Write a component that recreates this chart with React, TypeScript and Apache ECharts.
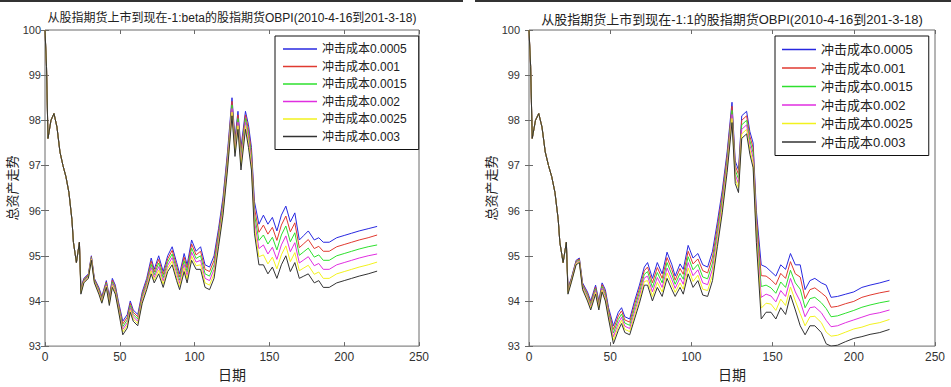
import React, { useEffect, useRef } from "react";
import * as echarts from "echarts";

// trading days (x axis)
const days = [0, 1, 2, 4, 6, 8, 10, 12, 14, 16, 18, 19, 21, 23, 24, 26, 29, 31, 33, 36, 38, 41, 43, 45, 47, 49, 52, 55, 57, 59, 62, 65, 68, 71, 73, 76, 79, 82, 85, 88, 90, 93, 95, 98, 101, 104, 107, 110, 113, 116, 119, 122, 125, 127, 129, 131, 134, 136, 138, 140, 143, 146, 149, 152, 155, 158, 161, 164, 167, 170, 173, 176, 180, 183, 186, 190, 195, 200, 205, 210, 216, 222];

// first days, where every cost level draws the same path
const sharedStart = [100, 99.2, 97.6, 98.0, 98.15, 97.85, 97.3, 97.0, 96.75, 96.4, 95.8, 95.3, 94.85, 95.3];

// left chart: -1:beta
const leftC0005 = [...sharedStart, 94.3, 94.5, 94.6, 95.0, 94.5, 94.3, 94.1, 94.45, 94.1, 94.5, 94.35, 94.0, 93.55, 93.7, 94.0, 93.8, 93.7, 94.2, 94.5, 94.95, 94.7, 95.0, 94.65, 95.0, 95.2, 94.85, 94.6, 95.05, 94.8, 95.35, 95.1, 95.2, 94.8, 94.75, 95.0, 95.6, 96.3, 97.3, 98.5, 97.6, 98.2, 97.4, 98.2, 97.9, 97.4, 96.2, 95.7, 95.9, 95.7, 95.85, 95.55, 95.9, 96.1, 95.75, 95.95, 95.35, 95.45, 95.55, 95.35, 95.4, 95.3, 95.3, 95.4, 95.45, 95.5, 95.55, 95.6, 95.65];
const leftC001 = [...sharedStart, 94.27, 94.48, 94.58, 94.98, 94.48, 94.27, 94.07, 94.42, 94.06, 94.46, 94.31, 93.96, 93.49, 93.64, 93.95, 93.75, 93.65, 94.15, 94.45, 94.88, 94.64, 94.92, 94.58, 94.93, 95.12, 94.77, 94.53, 94.97, 94.72, 95.26, 95.02, 95.1, 94.7, 94.65, 94.9, 95.52, 96.22, 97.22, 98.42, 97.52, 98.12, 97.3, 98.12, 97.8, 97.3, 96.06, 95.52, 95.68, 95.48, 95.63, 95.34, 95.68, 95.88, 95.53, 95.73, 95.18, 95.27, 95.36, 95.16, 95.21, 95.1, 95.1, 95.2, 95.25, 95.3, 95.35, 95.4, 95.46];
const leftC0015 = [...sharedStart, 94.24, 94.46, 94.56, 94.96, 94.46, 94.24, 94.04, 94.39, 94.02, 94.42, 94.27, 93.92, 93.43, 93.58, 93.9, 93.7, 93.6, 94.1, 94.4, 94.81, 94.58, 94.84, 94.51, 94.86, 95.04, 94.69, 94.46, 94.89, 94.64, 95.17, 94.94, 95.0, 94.6, 94.55, 94.8, 95.44, 96.14, 97.14, 98.34, 97.44, 98.04, 97.2, 98.04, 97.7, 97.2, 95.92, 95.34, 95.46, 95.26, 95.41, 95.13, 95.46, 95.66, 95.31, 95.51, 95.01, 95.09, 95.17, 94.97, 95.02, 94.9, 94.9, 95.0, 95.05, 95.1, 95.15, 95.2, 95.24];
const leftC002 = [...sharedStart, 94.21, 94.44, 94.54, 94.94, 94.44, 94.21, 94.01, 94.36, 93.98, 94.38, 94.23, 93.88, 93.37, 93.52, 93.85, 93.65, 93.55, 94.05, 94.35, 94.74, 94.52, 94.76, 94.44, 94.79, 94.96, 94.61, 94.39, 94.81, 94.56, 95.08, 94.86, 94.9, 94.5, 94.45, 94.7, 95.36, 96.06, 97.06, 98.26, 97.36, 97.96, 97.1, 97.96, 97.6, 97.1, 95.78, 95.16, 95.24, 95.04, 95.19, 94.92, 95.24, 95.44, 95.09, 95.29, 94.84, 94.91, 94.98, 94.78, 94.83, 94.7, 94.7, 94.8, 94.85, 94.9, 94.95, 95.0, 95.04];
const leftC0025 = [...sharedStart, 94.18, 94.42, 94.52, 94.92, 94.42, 94.18, 93.98, 94.33, 93.94, 94.34, 94.19, 93.84, 93.31, 93.46, 93.8, 93.6, 93.5, 94.0, 94.3, 94.67, 94.46, 94.68, 94.37, 94.72, 94.88, 94.53, 94.32, 94.73, 94.48, 94.99, 94.78, 94.8, 94.4, 94.35, 94.6, 95.28, 95.98, 96.98, 98.18, 97.28, 97.88, 97.0, 97.88, 97.5, 97.0, 95.64, 94.98, 95.02, 94.82, 94.97, 94.71, 95.02, 95.22, 94.87, 95.07, 94.67, 94.73, 94.79, 94.59, 94.64, 94.5, 94.5, 94.6, 94.65, 94.7, 94.75, 94.8, 94.86];
const leftC003 = [...sharedStart, 94.15, 94.4, 94.5, 94.9, 94.4, 94.15, 93.95, 94.3, 93.9, 94.3, 94.15, 93.8, 93.25, 93.4, 93.75, 93.55, 93.45, 93.95, 94.25, 94.6, 94.4, 94.6, 94.3, 94.65, 94.8, 94.45, 94.25, 94.65, 94.4, 94.9, 94.7, 94.7, 94.3, 94.25, 94.5, 95.2, 95.9, 96.9, 98.1, 97.2, 97.8, 96.9, 97.8, 97.4, 96.9, 95.5, 94.8, 94.8, 94.6, 94.75, 94.5, 94.8, 95.0, 94.65, 94.85, 94.5, 94.55, 94.6, 94.4, 94.45, 94.3, 94.3, 94.4, 94.45, 94.5, 94.55, 94.6, 94.66];

// right chart: -1:1
const rightC0005 = [...sharedStart, 94.3, 94.5, 94.9, 94.95, 94.4, 94.2, 94.0, 94.35, 94.0, 94.4, 94.25, 93.85, 93.45, 93.75, 93.85, 93.65, 93.6, 94.0, 94.35, 94.75, 94.85, 94.5, 94.85, 94.6, 95.08, 94.8, 94.55, 94.82, 94.7, 95.23, 94.95, 95.05, 94.8, 94.75, 95.1, 95.75, 96.45, 97.3, 98.4, 97.1, 96.9, 98.1, 98.2, 97.75, 97.5, 96.0, 94.8, 94.75, 94.65, 94.55, 94.8, 94.7, 95.05, 94.8, 94.8, 94.25, 94.45, 94.5, 94.4, 94.35, 94.08, 94.1, 94.15, 94.2, 94.3, 94.35, 94.4, 94.46];
const rightC001 = [...sharedStart, 94.27, 94.48, 94.88, 94.93, 94.37, 94.16, 93.96, 94.31, 93.96, 94.36, 94.2, 93.8, 93.37, 93.67, 93.78, 93.58, 93.53, 93.92, 94.27, 94.67, 94.75, 94.4, 94.74, 94.5, 94.96, 94.69, 94.46, 94.72, 94.59, 95.1, 94.82, 94.93, 94.67, 94.62, 94.97, 95.64, 96.35, 97.21, 98.31, 97.0, 96.8, 98.0, 98.1, 97.65, 97.39, 95.86, 94.56, 94.55, 94.47, 94.36, 94.61, 94.5, 94.87, 94.6, 94.53, 94.05, 94.25, 94.29, 94.18, 94.09, 93.86, 93.88, 93.94, 93.99, 94.08, 94.13, 94.18, 94.22];
const rightC0015 = [...sharedStart, 94.24, 94.46, 94.86, 94.91, 94.34, 94.12, 93.92, 94.27, 93.92, 94.32, 94.15, 93.75, 93.29, 93.59, 93.71, 93.51, 93.46, 93.84, 94.19, 94.59, 94.65, 94.3, 94.63, 94.4, 94.85, 94.58, 94.37, 94.61, 94.48, 94.98, 94.69, 94.81, 94.53, 94.49, 94.84, 95.53, 96.25, 97.12, 98.22, 96.9, 96.7, 97.9, 98.0, 97.55, 97.28, 95.72, 94.32, 94.35, 94.29, 94.17, 94.42, 94.3, 94.68, 94.4, 94.26, 93.85, 94.05, 94.08, 93.96, 93.83, 93.65, 93.67, 93.73, 93.79, 93.86, 93.91, 93.96, 94.0];
const rightC002 = [...sharedStart, 94.21, 94.44, 94.84, 94.89, 94.31, 94.08, 93.88, 94.23, 93.88, 94.28, 94.1, 93.7, 93.21, 93.51, 93.64, 93.44, 93.39, 93.76, 94.11, 94.51, 94.55, 94.2, 94.52, 94.3, 94.73, 94.47, 94.28, 94.51, 94.37, 94.85, 94.56, 94.69, 94.4, 94.36, 94.71, 95.42, 96.15, 97.03, 98.13, 96.8, 96.6, 97.8, 97.9, 97.45, 97.17, 95.58, 94.08, 94.15, 94.11, 93.98, 94.23, 94.1, 94.5, 94.2, 93.99, 93.65, 93.85, 93.87, 93.74, 93.57, 93.43, 93.45, 93.52, 93.58, 93.64, 93.7, 93.74, 93.8];
const rightC0025 = [...sharedStart, 94.18, 94.42, 94.82, 94.87, 94.28, 94.04, 93.84, 94.19, 93.84, 94.24, 94.05, 93.65, 93.13, 93.43, 93.57, 93.37, 93.32, 93.68, 94.03, 94.43, 94.45, 94.1, 94.41, 94.2, 94.62, 94.36, 94.19, 94.4, 94.26, 94.73, 94.43, 94.57, 94.26, 94.23, 94.58, 95.31, 96.05, 96.94, 98.04, 96.7, 96.5, 97.7, 97.8, 97.35, 97.06, 95.44, 93.84, 93.95, 93.93, 93.79, 94.04, 93.9, 94.31, 94.0, 93.72, 93.45, 93.65, 93.66, 93.52, 93.31, 93.22, 93.24, 93.31, 93.38, 93.42, 93.48, 93.52, 93.59];
const rightC003 = [...sharedStart, 94.15, 94.4, 94.8, 94.85, 94.25, 94.0, 93.8, 94.15, 93.8, 94.2, 94.0, 93.6, 93.05, 93.35, 93.5, 93.3, 93.25, 93.6, 93.95, 94.35, 94.35, 94.0, 94.3, 94.1, 94.5, 94.25, 94.1, 94.3, 94.15, 94.6, 94.3, 94.45, 94.13, 94.1, 94.45, 95.2, 95.95, 96.85, 97.95, 96.6, 96.4, 97.6, 97.7, 97.25, 96.95, 95.3, 93.6, 93.75, 93.75, 93.6, 93.85, 93.7, 94.13, 93.8, 93.45, 93.25, 93.45, 93.45, 93.3, 93.05, 93.0, 93.02, 93.1, 93.17, 93.21, 93.26, 93.3, 93.37];

const seriesNames = ["冲击成本0.0005", "冲击成本0.001", "冲击成本0.0015", "冲击成本0.002", "冲击成本0.0025", "冲击成本0.003"];
const seriesColors = ["#2828e0", "#e03a30", "#2ee02e", "#e02ee0", "#f2f21e", "#333333"];
const leftTitle = "从股指期货上市到现在-1:beta的股指期货OBPI(2010-4-16到201-3-18)";
const rightTitle = "从股指期货上市到现在-1:1的股指期货OBPI(2010-4-16到201-3-18)";
const xName = "日期";
const yName = "总资产走势";

const leftValues = [leftC0005, leftC001, leftC0015, leftC002, leftC0025, leftC003];
const rightValues = [rightC0005, rightC001, rightC0015, rightC002, rightC0025, rightC003];

const FONT = "'Liberation Sans', 'Noto Sans CJK SC', sans-serif";
const AXIS_COLOR = "#6a6a6a";

function makeAxes(gridIndex: number, yLabelMargin: number, yNameGap: number) {
  const tick = { show: true, inside: true, length: 4, lineStyle: { color: AXIS_COLOR } };
  const xs = [
    {
      type: "value", gridIndex, min: 0, max: 250, interval: 50, position: "bottom",
      axisLine: { show: false }, axisTick: tick, splitLine: { show: false },
      axisLabel: { color: "#333", fontSize: 12, margin: 5, fontFamily: FONT },
      name: xName, nameLocation: "middle", nameGap: 18,
      nameTextStyle: { fontSize: 14, color: "#222", fontFamily: FONT },
    },
    {
      type: "value", gridIndex, min: 0, max: 250, interval: 50, position: "top",
      axisLine: { show: false }, axisTick: tick, splitLine: { show: false },
      axisLabel: { show: false },
    },
  ];
  const ys = [
    {
      type: "value", gridIndex, min: 93, max: 100, interval: 1, position: "left",
      axisLine: { show: false }, axisTick: tick, splitLine: { show: false },
      axisLabel: { color: "#333", fontSize: 11, margin: yLabelMargin, fontFamily: FONT },
      name: yName, nameLocation: "middle", nameGap: yNameGap,
      nameTextStyle: { fontSize: 13, color: "#222", fontFamily: FONT },
    },
    {
      type: "value", gridIndex, min: 93, max: 100, interval: 1, position: "right",
      axisLine: { show: false }, axisTick: tick, splitLine: { show: false },
      axisLabel: { show: false },
    },
  ];
  return { xs, ys };
}

function makeSeries(values: number[][], axisIndex: number) {
  return values.map((arr, k) => ({
    name: seriesNames[k],
    type: "line",
    xAxisIndex: axisIndex,
    yAxisIndex: axisIndex,
    showSymbol: false,
    symbol: "none",
    color: seriesColors[k],
    lineStyle: { width: 1, color: seriesColors[k] },
    data: days.map((d, i) => [d, arr[i]]),
  }));
}

function makeLegend(left: number, top: number, fontSize: number, itemGap: number, padding: number[]) {
  return {
    left, top, orient: "vertical", data: seriesNames,
    icon: "rect", itemWidth: 34, itemHeight: 1.5, itemGap,
    borderColor: "#111", borderWidth: 1, borderRadius: 0, padding,
    backgroundColor: "#fff",
    textStyle: { fontSize, color: "#222", fontFamily: FONT, padding: [0, 0, 0, 0] },
    selectedMode: false,
  };
}

export default function App() {
  const ref = useRef<HTMLDivElement>(null);
  useEffect(() => {
    document.body.style.margin = "0";
    if (!ref.current) return;
    const chart = echarts.init(ref.current, undefined, { renderer: "svg" });
    const a0 = makeAxes(0, 4, 22);
    const a1 = makeAxes(1, 9, 30);
    chart.setOption({
      animation: false,
      backgroundColor: "#fff",
      grid: [
        { left: 45, top: 30, width: 374, height: 318, show: true, borderColor: AXIS_COLOR, borderWidth: 1, containLabel: false },
        { left: 529, top: 30, width: 406, height: 318, show: true, borderColor: AXIS_COLOR, borderWidth: 1, containLabel: false },
      ],
      xAxis: [...a0.xs, ...a1.xs],
      yAxis: [...a0.ys, ...a1.ys],
      legend: [
        makeLegend(275, 36, 12, 5.5, [7, 12, 7, 8]),
        makeLegend(775, 36, 13, 5.5, [7, 16, 7, 7]),
      ],
      series: [...makeSeries(leftValues, 0), ...makeSeries(rightValues, 2)],
      graphic: [
        { type: "rect", left: 0, top: 0, shape: { width: 463, height: 2 }, style: { fill: "#333" } },
        { type: "rect", left: 475, top: 0, shape: { width: 476, height: 2 }, style: { fill: "#333" } },
        {
          type: "text", x: 232, y: 18,
          style: { text: leftTitle, fontSize: 12, fontFamily: FONT, fill: "#222", textAlign: "center", textVerticalAlign: "middle" },
        },
        {
          type: "text", x: 732, y: 19,
          style: { text: rightTitle, fontSize: 13, fontFamily: FONT, fill: "#222", textAlign: "center", textVerticalAlign: "middle" },
        },
      ],
    });
    return () => chart.dispose();
  }, []);
  return <div ref={ref} style={{ width: 951, height: 387 }} />;
}
